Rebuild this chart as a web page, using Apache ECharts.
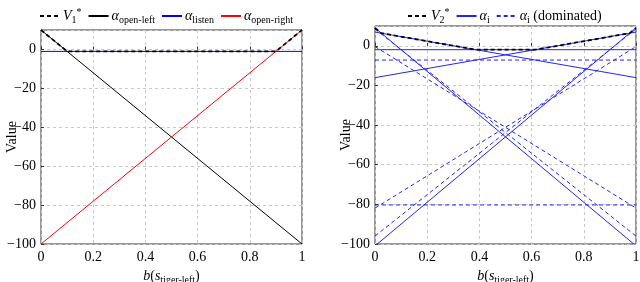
<!DOCTYPE html>
<html>
<head>
<meta charset="utf-8">
<script src="https://cdn.jsdelivr.net/npm/echarts@6/dist/echarts.min.js"></script>
<style>html,body{margin:0;padding:0;background:#fff;}#c{width:640px;height:282px;}</style>
</head>
<body>
<div id="c"></div>
<script>
// ---- data ----
const beliefEnds = [0, 1];
const xTicks = [0, 0.2, 0.4, 0.6, 0.8, 1];
const yTicks = [-100, -80, -60, -40, -20, 0];
// left panel: one-step alpha vectors (value at b=0, value at b=1)
const alphaOpenLeft = [10, -100];
const alphaListen = [-1, -1];
const alphaOpenRight = [-100, 10];
const v1Belief = [0, 0.1, 0.9, 1];
const v1Value = [10, -1, -1, 10];
// right panel: two-step alpha vectors (value at b=0, value at b=1)
const alphaSolid = [
  [9.05, -100.95],
  [6.93, -16.06],
  [-1.95, -1.95],
  [-16.06, 6.93],
  [-100.95, 9.05]
];
const alphaDominated = [
  [8.5, -96],
  [-0.38, -81.89],
  [-7.18, -7.18],
  [-80.3, -80.3],
  [-81.89, -0.38],
  [-96, 8.5]
];
const v2Belief = [0, 0.024, 0.386, 0.614, 0.976, 1];
const v2Value = [9.05, 6.38, -1.95, -1.95, 6.38, 9.05];

// ---- styles ----
const FONT = '"Liberation Serif", "DejaVu Serif", serif';
const BLUE = '#2222ff';
const rich = {
  m: {fontFamily: FONT, fontSize: 14, lineHeight: 18, color: '#000'},
  mi: {fontFamily: FONT, fontSize: 14, lineHeight: 18, color: '#000', fontStyle: 'italic'},
  sub: {fontFamily: FONT, fontSize: 10, lineHeight: 8, verticalAlign: 'bottom', color: '#000'},
  sup: {fontFamily: FONT, fontSize: 10, lineHeight: 8, verticalAlign: 'top', color: '#000'}
};
const legendText = {
  V1: '{mi|V}{sub|1}{sup|*}',
  aOL: '{mi|α}{sub|open-left}',
  aL: '{mi|α}{sub|listen}',
  aOR: '{mi|α}{sub|open-right}',
  V2: '{mi|V}{sub|2}{sup|*}',
  ai: '{mi|α}{sub|i}',
  aid: '{mi|α}{sub|i}{m| (dominated)}'
};

function seg(name, xs, ys, idx, color, width, dash, z) {
  return {
    type: 'line', name: name, xAxisIndex: idx, yAxisIndex: idx,
    data: xs.map((x, i) => [x, ys[i]]),
    symbol: 'none', silent: true, animation: false, z: z || 2,
    lineStyle: {color: color, width: width, type: dash},
    itemStyle: {color: color}
  };
}

function xAxisCfg(idx) {
  return {
    type: 'value', gridIndex: idx, min: 0, max: 1, interval: 0.2,
    axisLine: {show: false},
    axisTick: {show: true, inside: true, length: 3, lineStyle: {color: '#333'}},
    axisLabel: {fontFamily: FONT, fontSize: 14, color: '#000', margin: 6},
    splitLine: {show: true, lineStyle: {color: '#c8c8c8', type: [3, 3], width: 1}},
    name: '{mi|b}{m|(}{mi|s}{sub|tiger-left}{m|)}',
    nameLocation: 'middle', nameGap: 20,
    nameTextStyle: {rich: rich}
  };
}
function yAxisCfg(idx) {
  return {
    type: 'value', gridIndex: idx, min: -100, max: 10, interval: 20,
    axisLine: {show: false},
    axisTick: {show: true, inside: true, length: 3, lineStyle: {color: '#333'}},
    axisLabel: {fontFamily: FONT, fontSize: 14, color: '#000', margin: 5, showMaxLabel: false,
      formatter: v => (yTicks.indexOf(v) >= 0 ? String(v).replace('-', '\u2212') : '')},
    splitLine: {show: true, lineStyle: {color: '#c8c8c8', type: [3, 3], width: 1}},
    name: 'Value', nameLocation: 'middle', nameGap: 22, nameMoveOverlap: false,
    nameTextStyle: {fontFamily: FONT, fontSize: 14, color: '#000'}
  };
}

const series = [];
series.push(seg('aOL', beliefEnds, alphaOpenLeft, 0, '#000', 1, 'solid'));
series.push(seg('aL', beliefEnds, alphaListen, 0, '#0000ff', 1, 'solid'));
series.push(seg('aOR', beliefEnds, alphaOpenRight, 0, '#ff0000', 1, 'solid'));
series.push(seg('V1', v1Belief, v1Value, 0, '#000', 1.8, [4, 3], 5));
alphaSolid.forEach(a => series.push(seg('ai', beliefEnds, a, 1, BLUE, 1, 'solid')));
alphaDominated.forEach(a => series.push(seg('aid', beliefEnds, a, 1, BLUE, 1, [4, 3])));
series.push(seg('V2', v2Belief, v2Value, 1, '#000', 1.8, [4, 3], 5));

function legendCfg(names, left) {
  return {
    data: names, left: left, top: 2, itemWidth: 20, itemHeight: 10, itemGap: 6,
    selectedMode: false,
    itemStyle: {opacity: 0, borderWidth: 0},
    formatter: n => legendText[n],
    textStyle: {rich: rich, padding: [0, 0, 0, -2]}
  };
}

const chart = echarts.init(document.getElementById('c'), null, {renderer: 'canvas'});
chart.setOption({
  animation: false,
  grid: [
    {left: 41, right: 338, top: 30, bottom: 38, show: true, borderColor: '#333', borderWidth: 1,
     backgroundColor: 'transparent', containLabel: false, outerBoundsMode: 'none'},
    {left: 375, right: 4, top: 26, bottom: 38, show: true, borderColor: '#333', borderWidth: 1,
     backgroundColor: 'transparent', containLabel: false, outerBoundsMode: 'none'}
  ],
  xAxis: [xAxisCfg(0), xAxisCfg(1)],
  yAxis: [yAxisCfg(0), yAxisCfg(1)],
  legend: [legendCfg(['V1', 'aOL', 'aL', 'aOR'], 34), legendCfg(['V2', 'ai', 'aid'], 402)],
  series: series
});
</script>
</body>
</html>
